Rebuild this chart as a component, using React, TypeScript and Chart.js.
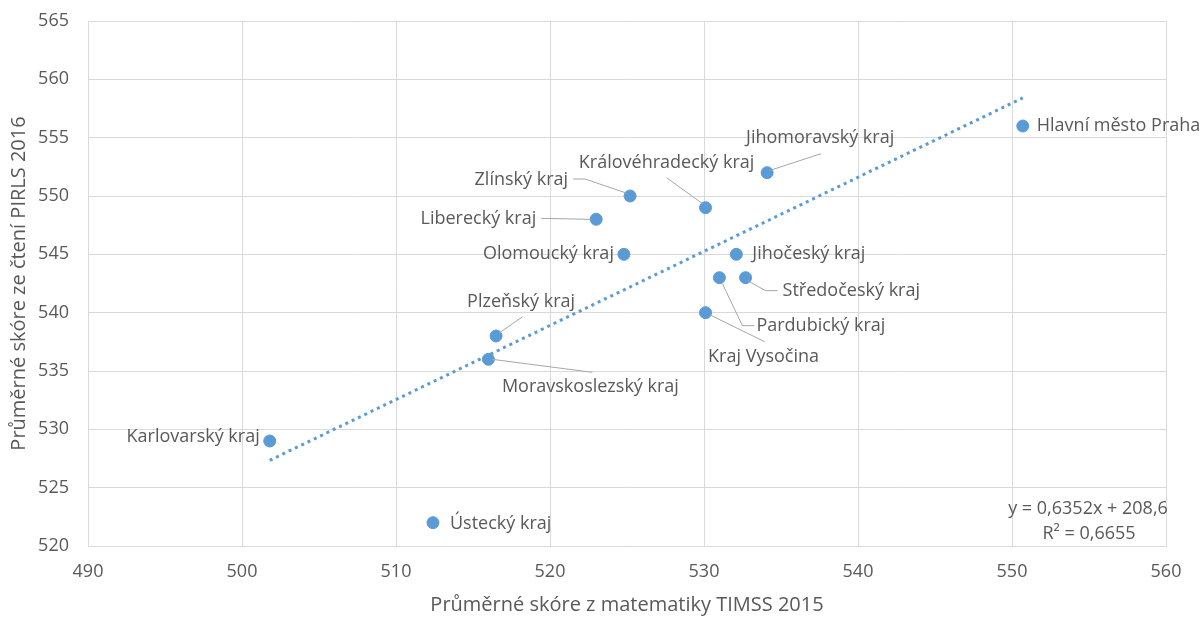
import React, { useEffect, useRef } from "react";
import { Chart, registerables } from "chart.js";

Chart.register(...registerables);

const regions: string[] = [
  "Hlavní město Praha",
  "Jihomoravský kraj",
  "Královéhradecký kraj",
  "Zlínský kraj",
  "Liberecký kraj",
  "Olomoucký kraj",
  "Jihočeský kraj",
  "Středočeský kraj",
  "Pardubický kraj",
  "Kraj Vysočina",
  "Plzeňský kraj",
  "Moravskoslezský kraj",
  "Karlovarský kraj",
  "Ústecký kraj",
];

const timss2015: number[] = [550.7, 534.1, 530.1, 525.2, 523.0, 524.8, 532.1, 532.7, 531.0, 530.1, 516.5, 516.0, 501.8, 512.4];
const pirls2016: number[] = [556, 552, 549, 550, 548, 545, 545, 543, 543, 540, 538, 536, 529, 522];

const trendSlope = 0.6352;
const trendIntercept = 208.6;
const equationLines: string[] = ["y = 0,6352x + 208,6", "R² = 0,6655"];

const xTitle = "Průměrné skóre z matematiky TIMSS 2015";
const yTitle = "Průměrné skóre ze čtení PIRLS 2016";

// label placement (pixel offsets from each point): [dx, dy, align, leader path]
type LabelLayout = { dx: number; dy: number; align: CanvasTextAlign; leader?: number[][] };
const labelLayout: LabelLayout[] = [
  { dx: 14, dy: 0, align: "left" },
  { dx: 53, dy: -35, align: "center", leader: [[2, -2], [54, -19]] },
  { dx: -39, dy: -45, align: "center", leader: [[-3, -4], [-39, -30]] },
  { dx: -62, dy: -16, align: "right", leader: [[-4, -3], [-45, -17], [-57, -17]] },
  { dx: -60, dy: 0, align: "right", leader: [[-6, 0], [-55, -1]] },
  { dx: -10, dy: 0, align: "right" },
  { dx: 16, dy: 0, align: "left" },
  { dx: 37, dy: 13, align: "left", leader: [[2, 3], [20, 13], [32, 13]] },
  { dx: 37, dy: 48, align: "left", leader: [[3, 6], [23, 48], [35, 48]] },
  { dx: 58, dy: 44, align: "center", leader: [[4, 2], [59, 29]] },
  { dx: 25, dy: -34, align: "center", leader: [[3, -3], [26, -19]] },
  { dx: 102, dy: 28, align: "center", leader: [[4, 0], [104, 13]] },
  { dx: -10, dy: -4, align: "right" },
  { dx: 17, dy: 1, align: "left" },
];

const FONT = "'Open Sans', 'Noto Sans', sans-serif";
const TEXT = "#595959";
const BLUE = "#5b9bd5";

export default function App() {
  const ref = useRef<HTMLCanvasElement | null>(null);

  useEffect(() => {
    document.body.style.margin = "0";
    const canvas = ref.current;
    if (!canvas) return;

    const points = timss2015.map((x, i) => ({ x, y: pirls2016[i] }));
    const xMin = Math.min(...timss2015);
    const xMax = Math.max(...timss2015);
    const trend = [
      { x: xMin, y: trendSlope * xMin + trendIntercept },
      { x: xMax, y: trendSlope * xMax + trendIntercept },
    ];

    const labelPlugin = {
      id: "pointLabels",
      afterDatasetsDraw(chart: any) {
        const ctx = chart.ctx as CanvasRenderingContext2D;
        const meta = chart.getDatasetMeta(1);
        ctx.save();
        meta.data.forEach((el: any, i: number) => {
          const L = labelLayout[i];
          const px = el.x;
          const py = el.y;
          if (L.leader) {
            ctx.beginPath();
            ctx.strokeStyle = "#a6a6a6";
            ctx.lineWidth = 1;
            L.leader.forEach((p, k) => {
              if (k === 0) ctx.moveTo(px + p[0], py + p[1]);
              else ctx.lineTo(px + p[0], py + p[1]);
            });
            ctx.stroke();
          }
          ctx.font = `18px ${FONT}`;
          ctx.fillStyle = TEXT;
          ctx.textAlign = L.align;
          ctx.textBaseline = "middle";
          ctx.fillText(regions[i], px + L.dx, py + L.dy);
        });
        const area = chart.chartArea;
        ctx.textAlign = "center";
        ctx.font = `18px ${FONT}`;
        ctx.fillText(equationLines[0], area.right - 78, area.bottom - 37);
        ctx.fillText(equationLines[1], area.right - 77, area.bottom - 12);
        ctx.restore();
      },
    };

    const chart = new Chart(canvas, {
      type: "scatter",
      data: {
        datasets: [
          {
            type: "line",
            label: "trend",
            data: trend,
            borderColor: BLUE,
            borderWidth: 3,
            borderDash: [3, 4],
            pointRadius: 0,
            fill: false,
          } as any,
          {
            label: "kraje",
            data: points,
            backgroundColor: BLUE,
            borderColor: BLUE,
            pointRadius: 6,
            pointHoverRadius: 6,
          },
        ],
      },
      options: {
        responsive: false,
        animation: false,
        layout: { padding: { top: 21, right: 37, left: 0, bottom: 0 } },
        plugins: {
          legend: { display: false },
          tooltip: { enabled: false },
        },
        scales: {
          x: {
            type: "linear",
            min: 490,
            max: 560,
            ticks: { stepSize: 10, padding: 15, color: TEXT, font: { family: FONT, size: 18 } },
            grid: { color: "#d9d9d9", drawTicks: false },
            border: { color: "#d9d9d9" },
            title: { display: true, text: xTitle, color: TEXT, font: { family: FONT, size: 20 }, padding: { top: 0, bottom: 0 } },
            afterFit: (s: any) => { s.height = 71; s.paddingLeft = 0; s.paddingRight = 0; },
          },
          y: {
            type: "linear",
            min: 520,
            max: 565,
            ticks: { stepSize: 5, padding: 19, color: TEXT, font: { family: FONT, size: 18 } },
            grid: { color: "#d9d9d9", drawTicks: false },
            border: { color: "#d9d9d9" },
            title: { display: true, text: yTitle, color: TEXT, font: { family: FONT, size: 20 }, padding: { top: 7, bottom: 0 } },
            afterFit: (s: any) => { s.width = 88; s.paddingTop = 0; s.paddingBottom = 0; },
          },
        },
      },
      plugins: [labelPlugin],
    });

    return () => chart.destroy();
  }, []);

  return (
    <div style={{ width: 1203, height: 617 }}>
      <canvas ref={ref} width={1203} height={617} />
    </div>
  );
}
